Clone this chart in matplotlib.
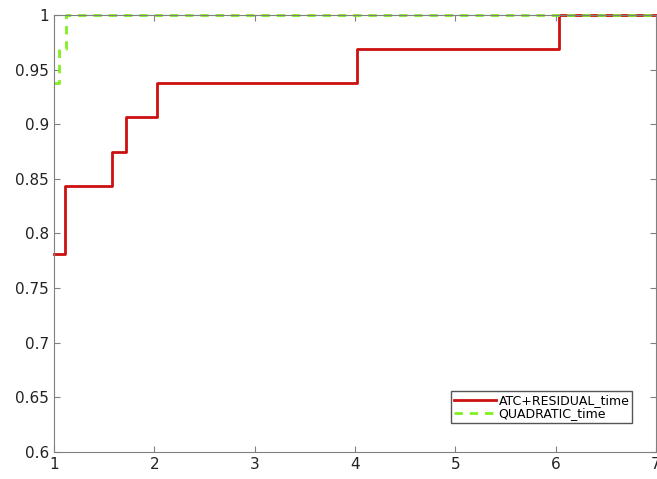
import matplotlib.pyplot as plt
import numpy as np

# step data (x, fraction)
atc_x = [1.0, 1.11, 1.58, 1.72, 2.03, 4.02, 6.03, 7.0]
atc_y = [0.78125, 0.84375, 0.875, 0.90625, 0.9375, 0.96875, 1.0, 1.0]
quad_x = [1.0, 1.05, 1.12, 7.0]
quad_y = [0.9375, 0.96875, 1.0, 1.0]

fig = plt.figure(figsize=(6.57, 4.79), dpi=100)
ax = fig.add_axes([0.0822, 0.0564, 0.916, 0.9123])

ax.plot(atc_x, atc_y, drawstyle='steps-post', color='#cc1010', lw=2,
        label='ATC+RESIDUAL_time', clip_on=False)
ax.plot(quad_x, quad_y, drawstyle='steps-post', color='#80f020', lw=2,
        linestyle=(0, (3, 2.5)), label='QUADRATIC_time', clip_on=False)

ax.set_xlim(1, 7)
ax.set_ylim(0.6, 1)
ax.set_xticks(range(1, 8))
ax.set_yticks(np.arange(0.6, 1.001, 0.05))
ax.set_yticklabels(['0.6', '0.65', '0.7', '0.75', '0.8', '0.85', '0.9', '0.95', '1'])

for s in ax.spines.values():
    s.set_color('#808080')
ax.tick_params(direction='in', length=4, color='#808080', labelsize=11,
               labelcolor='#222222', top=True, right=True)

leg = ax.legend(loc='lower right', bbox_to_anchor=(0.971, 0.052), fontsize=9,
                fancybox=False, framealpha=1, edgecolor='#555555',
                borderpad=0.2, labelspacing=0.05, handlelength=3.4,
                handletextpad=0.2)

fig.savefig('out.png', dpi=100)
